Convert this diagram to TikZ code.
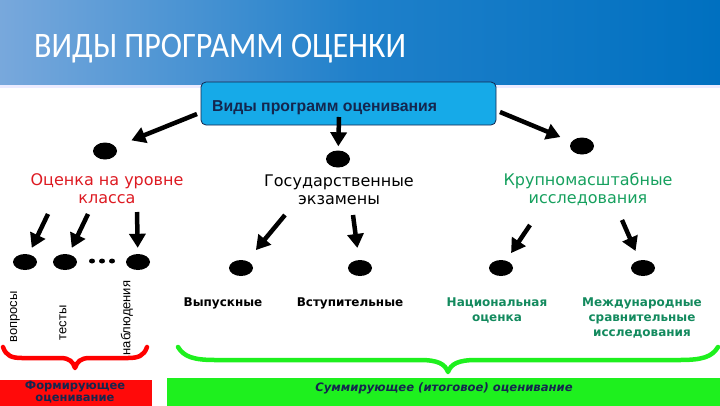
\documentclass[tikz,border=0pt]{standalone}
\usepackage{fontspec}
\setmainfont{DejaVu Sans}
\newfontfamily\titlefont{Carlito}
\newfontfamily\arialfont{Liberation Sans}
\usetikzlibrary{arrows.meta,shapes.geometric,calc}
\definecolor{barL}{HTML}{78A8DC}
\definecolor{barM}{HTML}{1F80CA}
\definecolor{barR}{HTML}{0070C0}
\definecolor{boxfill}{HTML}{16AAE8}
\definecolor{navy}{HTML}{14264E}
\definecolor{lblred}{HTML}{DD1A22}
\definecolor{lblgreen}{HTML}{16A05E}
\definecolor{lblteal}{HTML}{138A5E}
\definecolor{bred}{HTML}{FF0A0A}
\definecolor{bgreen}{HTML}{1EF01E}
\tikzset{
  arr/.style={line width=4.5pt,-{Triangle[width=16pt,length=14pt]}},
  bigdot/.style={ellipse,fill=black,minimum width=24pt,minimum height=17pt,inner sep=0pt},
  smalldot/.style={ellipse,fill=black,minimum width=6pt,minimum height=5pt,inner sep=0pt},
  comic/.style={font=\fontsize{16}{16}\selectfont,align=center,inner sep=0pt},
  lowlbl/.style={font=\bfseries\fontsize{12}{15}\selectfont,align=center,inner sep=0pt},
  rotlbl/.style={font=\arialfont\fontsize{13}{13}\selectfont,rotate=90,inner sep=0pt},
  bracered/.style={draw=red,line width=4.5pt,line cap=round,line join=round},
  bracegreen/.style={draw=bgreen,line width=4.5pt,line cap=round,line join=round}
}
\begin{document}
\begin{tikzpicture}[x=1pt,y=-1pt]
\useasboundingbox (0,0) rectangle (720,405);
% title bar
\shade[left color=barL,right color=barR,middle color=barM] (0,0) rectangle (720,85);
\fill[blue!8] (0,85) rectangle (720,88);
\node[anchor=base west,text=white,font=\titlefont\fontsize{32}{32}\selectfont,inner sep=0pt,yscale=1.12] (title) at (34,57) {ВИДЫ ПРОГРАММ ОЦЕНКИ};
% top box
\node[draw=navy,line width=0.8pt,fill=boxfill,rounded corners=5pt,minimum width=295pt,minimum height=43pt,inner sep=0pt] (top) at (348.5,103.5) {};
\node[anchor=base west,text=navy,font=\arialfont\bfseries\fontsize{15.8}{16}\selectfont,inner sep=0pt] (toptext) at (212,111) {Виды программ оценивания};
% level 1 dots
\node[bigdot] (d1) at (105,151) {};
\node[bigdot] (d2) at (338,159) {};
\node[bigdot] (d3) at (582,146) {};
\coordinate (s1) at (197,114);
\coordinate (s2) at (339,117);
\coordinate (s3) at (500,112);
\draw[arr,shorten >=17pt] (s1) -- (d1);
\draw[arr,shorten >=4pt] (s2) -- (d2);
\draw[arr,shorten >=12pt] (s3) -- (d3);
% level 1 labels
\node[comic,text=lblred] (l1) at (107,189) {Оценка на уровне\\[2pt]класса};
\node[comic,text=black] (l2) at (339,190) {Государственные\\[2pt]экзамены};
\node[comic,text=lblgreen] (l3) at (588,189) {Крупномасштабные\\[2pt]исследования};
% level 2 dots
\node[bigdot,minimum height=16pt] (d4) at (25,262) {};
\node[bigdot,minimum height=16pt] (d5) at (65,262) {};
\node[bigdot,minimum height=16pt] (d6) at (138,262) {};
\node[smalldot] (e1) at (92,261) {};
\node[smalldot] (e2) at (102,261) {};
\node[smalldot] (e3) at (112,261) {};
\node[bigdot,minimum height=16pt] (d7) at (241,268) {};
\node[bigdot,minimum height=16pt] (d8) at (360,268) {};
\node[bigdot,minimum height=16pt] (d9) at (501,268) {};
\node[bigdot,minimum height=16pt] (d10) at (643,268) {};
\coordinate (a1) at (48,214);
\coordinate (a2) at (88,214);
\coordinate (a3) at (137,212);
\coordinate (b1) at (285,215);
\coordinate (b2) at (353,215);
\coordinate (c1) at (530,225);
\coordinate (c2) at (622,220);
\draw[arr,shorten >=7pt] (a1) -- (d4);
\draw[arr,shorten >=7pt] (a2) -- (d5);
\draw[arr,shorten >=6pt] (a3) -- (d6);
\draw[arr,shorten >=14pt] (b1) -- (d7);
\draw[arr,shorten >=12pt] (b2) -- (d8);
\draw[arr,shorten >=9pt] (c1) -- (d9);
\draw[arr,shorten >=10pt] (c2) -- (d10);
% level 2 labels
\node[rotlbl] (r1) at (15,317) {вопросы};
\node[rotlbl] (r2) at (63,323) {тесты};
\node[rotlbl] (r3) at (127,318) {наблюдения};
\node[lowlbl] (n1) at (223,303) {Выпускные};
\node[lowlbl] (n2) at (350,303) {Вступительные};
\node[lowlbl,text=lblteal] (n3) at (497,310) {Национальная\\оценка};
\node[lowlbl,text=lblteal] (n4) at (642,318) {Международные\\сравнительные\\исследования};
% braces
\draw[bracered] (3,347) .. controls (6,356) and (12,358) .. (22,358) -- (60,358)
  .. controls (70,358) and (73,362) .. (75,368) .. controls (77,362) and (80,358) .. (90,358)
  -- (128,358) .. controls (138,358) and (144,356) .. (147,347);
\draw[bracegreen] (178,347) .. controls (184,357) and (194,360) .. (215,360) -- (420,360)
  .. controls (438,360) and (445,364) .. (448,372) .. controls (451,364) and (458,360) .. (476,360)
  -- (680,360) .. controls (702,360) and (712,357) .. (718,347);
% bottom boxes
\fill[bred] (0,380) rectangle (152,410);
\node[font=\bfseries\fontsize{11.5}{12}\selectfont,text=navy,align=center,inner sep=0pt] (form) at (75,392.5) {Формирующее\\оценивание};
\fill[bgreen] (167,378) rectangle (720,410);
\node[font=\bfseries\itshape\fontsize{11.6}{12}\selectfont,text=navy,inner sep=0pt] (summ) at (444,388) {Суммирующее (итоговое) оценивание};
\end{tikzpicture}
\end{document}
